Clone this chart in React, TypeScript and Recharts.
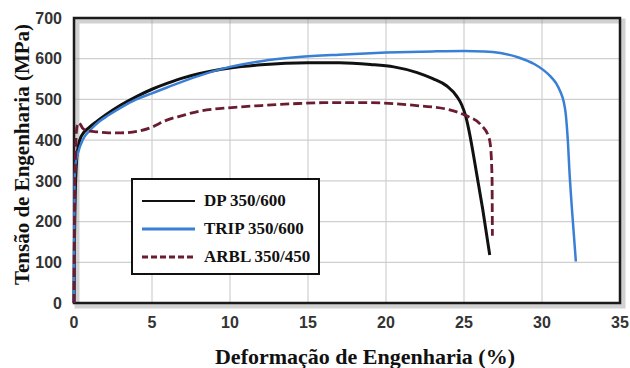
import React from 'react';
import { LineChart, Line, XAxis, YAxis, CartesianGrid, ReferenceArea, Legend } from 'recharts';

const xTicks = [0, 5, 10, 15, 20, 25, 30, 35];
const yTicks = [0, 100, 200, 300, 400, 500, 600, 700];

const dpX = [0, 0.03, 0.08, 0.15, 0.25, 0.47, 1, 1.5, 2, 3, 4, 5, 6, 7, 8, 10, 12, 15, 17, 19, 20.5, 22, 23, 23.9, 24.55, 24.85, 25.1, 25.3, 25.5, 25.8, 26.2, 26.65];
const dpY = [0, 150, 270, 340, 380, 410, 432, 447, 461, 486, 507, 525, 540, 553, 563, 577, 585, 590, 590, 586, 580, 566, 551, 533, 507, 487, 460, 427, 387, 320, 230, 118];

const tripX = [0, 0.02, 0.04, 0.1, 0.26, 0.58, 1.12, 1.6, 2.2, 3, 4, 5, 6, 8, 10, 12, 14.4, 17, 20, 23, 25, 26.3, 27.34, 28.5, 29.5, 30.1, 30.56, 30.9, 31.2, 31.4, 31.52, 31.6, 31.67, 31.75, 31.95, 32.17];
const tripY = [0, 180, 300, 340, 369, 402, 428, 445, 461, 480, 500, 515, 530, 558, 580, 594, 604, 610, 615, 618, 619, 618, 614, 603, 587, 572, 556, 540, 517, 493, 465, 430, 390, 330, 215, 102];

const arblX = [0, 0.03, 0.08, 0.15, 0.22, 0.3, 0.42, 0.58, 1.0, 1.6, 2.2, 3, 4.1, 5, 5.8, 7, 8, 10.1, 12, 14.4, 16, 18.96, 22.2, 23.9, 25.2, 26.05, 26.6, 26.7, 26.8, 26.81, 26.82];
const arblY = [0, 200, 330, 419, 438, 443, 438, 428, 422, 420, 418, 418, 422, 432, 447, 461, 471, 480, 485, 490, 492, 492, 484, 476, 459, 439, 406, 385, 303, 235, 165];

const seriesNames = ['DP 350/600', 'TRIP 350/600', 'ARBL 350/450'];
const seriesColors = ['#111111', '#3a7fd6', '#6a1c30'];

const toData = (xs: number[], ys: number[]) => xs.map((x, i) => ({ x, y: ys[i] }));
const dpData = toData(dpX, dpY);
const tripData = toData(tripX, tripY);
const arblData = toData(arblX, arblY);

const tickStyle = { fontFamily: '"Liberation Sans", Arial, sans-serif', fontWeight: 700, fontSize: 16, fill: '#333' };
const serif = '"Liberation Serif", "Times New Roman", serif';

const FrameShape = (props: any) => {
  const { x, y, width, height } = props;
  return (
    <g>
      <rect x={x + 3} y={y + 3} width={width} height={height} fill="none" stroke="#9a9a9a" strokeWidth={5} opacity={0.45} />
      <rect x={x} y={y} width={width} height={height} fill="none" stroke="#1a1a1a" strokeWidth={2.5} />
    </g>
  );
};

const LegendBox = () => (
  <div style={{ width: 189, height: 97, border: '2px solid #111', background: '#fff', boxSizing: 'border-box', paddingTop: 7 }}>
    {seriesNames.map((name, i) => (
      <div key={name} style={{ display: 'flex', alignItems: 'center', height: 28 }}>
        <svg width={62} height={10} style={{ marginLeft: 9 }}>
          <line x1={0} y1={5} x2={53} y2={5} stroke={seriesColors[i]} strokeWidth={i === 0 ? 1.8 : 3} strokeDasharray={i === 2 ? '6 3' : undefined} />
        </svg>
        <span style={{ fontFamily: serif, fontWeight: 700, fontSize: 17, color: '#111' }}>{name}</span>
      </div>
    ))}
  </div>
);

export default function App() {
  return (
    <div style={{ position: 'absolute', left: 0, top: 0, width: 630, height: 368, background: '#fff' }}>
      <LineChart width={630} height={368} margin={{ top: 18, right: 10, bottom: 5, left: 0 }}>
        <CartesianGrid stroke="#cfcfcf" strokeWidth={1.2} />
        <XAxis
          dataKey="x"
          type="number"
          domain={[0, 35]}
          ticks={xTicks}
          allowDuplicatedCategory={false}
          axisLine={false}
          tickLine={false}
          tick={tickStyle}
          tickMargin={8}
          height={60}
          label={(p: any) => {
            const vb = p.viewBox;
            return (
              <text x={vb.x + vb.width / 2 + 18} y={364} textAnchor="middle" style={{ fontFamily: serif, fontWeight: 700, fontSize: 22, fill: '#111' }}>
                Deformação de Engenharia (%)
              </text>
            );
          }}
        />
        <YAxis
          dataKey="y"
          type="number"
          domain={[0, 700]}
          ticks={yTicks}
          axisLine={false}
          tickLine={false}
          tick={tickStyle}
          tickMargin={6}
          width={74}
          label={(p: any) => {
            const vb = p.viewBox;
            const cy = vb.y + vb.height / 2 - 6;
            return (
              <text x={29} y={cy} textAnchor="middle" transform={`rotate(-90, 29, ${cy})`} style={{ fontFamily: serif, fontWeight: 700, fontSize: 21, fill: '#111' }}>
                Tensão de Engenharia (MPa)
              </text>
            );
          }}
        />
        <ReferenceArea x1={0} x2={35} y1={0} y2={700} shape={<FrameShape />} />
        <Line data={dpData} dataKey="y" name={seriesNames[0]} type="monotone" stroke={seriesColors[0]} strokeWidth={3} dot={false} isAnimationActive={false} />
        <Line data={tripData} dataKey="y" name={seriesNames[1]} type="monotone" stroke={seriesColors[1]} strokeWidth={2.5} dot={false} isAnimationActive={false} />
        <Line data={arblData} dataKey="y" name={seriesNames[2]} type="monotone" stroke={seriesColors[2]} strokeWidth={2.8} strokeDasharray="9 4" dot={false} isAnimationActive={false} />
        <Legend layout="horizontal" verticalAlign="middle" align="center" content={<LegendBox />} wrapperStyle={{ position: 'absolute', left: 131, top: 178, width: 189, height: 97 }} />
      </LineChart>
    </div>
  );
}
